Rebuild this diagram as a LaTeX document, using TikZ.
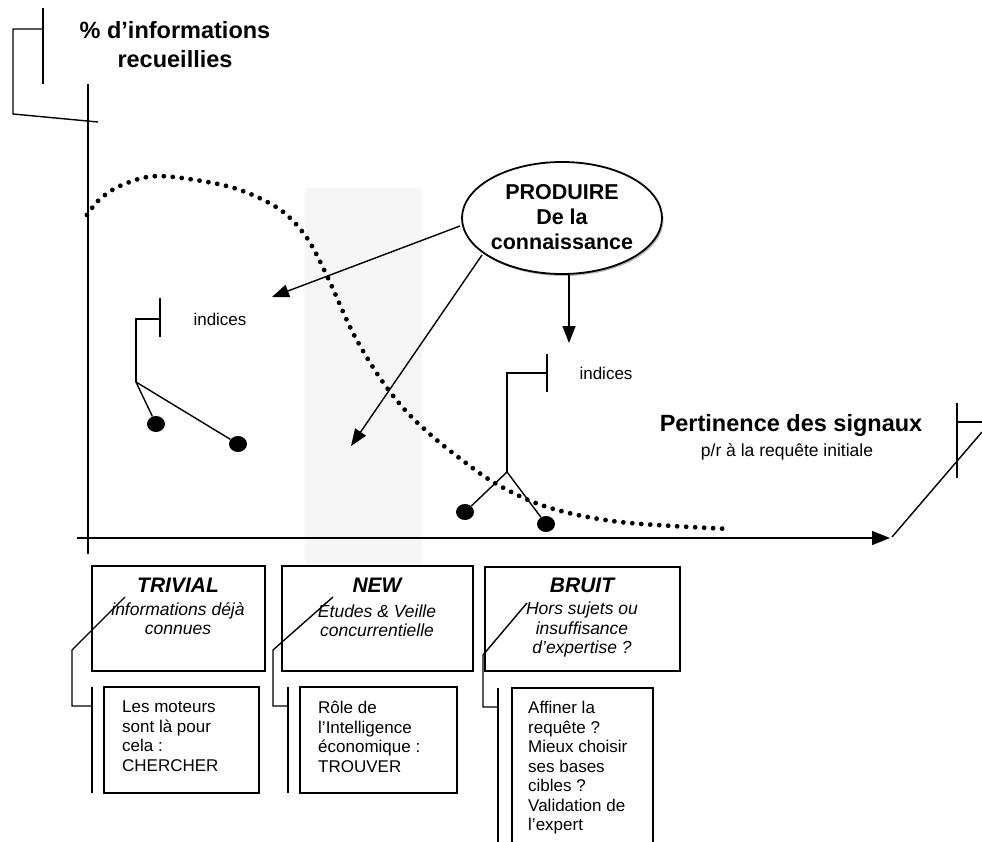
\documentclass[tikz,border=0pt]{standalone}
\usepackage{fontspec}
\setmainfont{Liberation Sans}
\usetikzlibrary{arrows.meta,shapes.geometric,shadows}
\definecolor{colgray}{RGB}{246,246,246}
\begin{document}
\begin{tikzpicture}[x=1pt,y=-1pt,
  ln/.style={line width=1.4pt},
  arr/.style={line width=1.4pt,-{Triangle[length=17pt,width=13pt]}},
  boxst/.style={draw,line width=1.5pt,rectangle,inner sep=0pt},
  blob/.style={fill=black,ellipse,minimum width=18pt,minimum height=16pt,inner sep=0pt},
  dotline/.style={line width=4.8pt,line cap=round,dash pattern=on 0pt off 9pt},
  bigt/.style={font=\fontsize{23.5}{29}\selectfont\bfseries,align=center,inner sep=0pt},
  smallt/.style={font=\fontsize{17}{19.5}\selectfont,inner sep=0pt},
  boxtxt/.style={font=\fontsize{17}{19.5}\selectfont,align=left,inner sep=0pt,anchor=north west},
  ttl/.style={font=\fontsize{21}{24}\selectfont\bfseries\itshape,inner sep=0pt,anchor=north},
  sub/.style={font=\fontsize{17.5}{19.5}\selectfont\itshape,align=center,inner sep=0pt,anchor=north},
]
\useasboundingbox (0,0) rectangle (982,842);
% grey column
\fill[colgray] (305,188) rectangle (422,564);

% axes
\coordinate (yt) at (88,84);
\coordinate (yb) at (88,554);
\coordinate (xl) at (77,538);
\coordinate (xr) at (890,538);
\draw[ln] (yt) -- (yb);
\draw[line width=1.4pt,-{Triangle[length=18pt,width=14pt]}] (xl) -- (xr);

% axis labels
\node[bigt] (ylab) at (175,45) {\% d’informations\\recueillies};
\node[bigt] (xlab) at (791,425) {Pertinence des signaux};
\node[font=\fontsize{17.5}{20}\selectfont,inner sep=0pt] (xlab2) at (787,452) {p/r à la requête initiale};

% top-left callout
\coordinate (c1a) at (43,8);
\coordinate (c1b) at (43,84);
\coordinate (c1c) at (43,29);
\coordinate (c1d) at (13,29);
\coordinate (c1e) at (13,114);
\coordinate (c1f) at (98,122);
\draw[ln] (c1a) -- (c1b);
\draw[ln] (c1c) -- (c1d) -- (c1e) -- (c1f);

% right callout
\coordinate (c2a) at (957,403);
\coordinate (c2b) at (957,478);
\coordinate (c2c) at (957,422);
\coordinate (c2d) at (982,422);
\coordinate (c2e) at (892,537);
\coordinate (c2f) at (982,432);
\draw[ln] (c2a) -- (c2b);
\draw[ln] (c2c) -- (c2d);
\draw[ln] (c2e) -- (c2f);

% dotted curve
\draw[dotline] plot[smooth,tension=0.55] coordinates {(87,215) (100,199) (122,185) (157,176) (213,183) (248,193) (282,211) (307,238) (328,278) (353,333) (380,378) (405,410) (432,436) (462,460) (493,482) (533,502) (573,514) (620,522) (673,526) (730,529)};

% ellipse
\node[ellipse,draw,line width=1.8pt,fill=white,minimum width=200pt,minimum height=112pt,inner sep=0pt,
      drop shadow={shadow xshift=1.5pt,shadow yshift=-2pt,fill=black!55}] (prod) at (562,218) {};
\node[font=\fontsize{21.5}{25}\selectfont\bfseries,align=center,inner sep=0pt] (prodtxt) at (562,217) {PRODUIRE\\De la\\connaissance};

% arrows from ellipse
\coordinate (s1) at (460,226);
\coordinate (t1) at (272,297);
\coordinate (s2) at (482,255);
\coordinate (t2) at (351,446);
\coordinate (s3) at (569,275);
\coordinate (t3) at (569,343);
\draw[arr] (s1) -- (t1);
\draw[arr] (s2) -- (t2);
\draw[arr] (s3) -- (t3);

% left indices group
\node[smallt] (ind1) at (220,319) {indices};
\coordinate (l1a) at (160,298);
\coordinate (l1b) at (160,337);
\coordinate (l1c) at (160,319);
\coordinate (l1d) at (136,319);
\coordinate (l1e) at (136,382);
\draw[ln] (l1a) -- (l1b);
\draw[ln] (l1c) -- (l1d) -- (l1e);
\node[blob] (d1) at (156,424) {};
\node[blob] (d2) at (238,444) {};
\draw[ln] (l1e) -- (d1);
\draw[ln] (l1e) -- (d2);

% right indices group
\node[smallt] (ind2) at (606,373) {indices};
\coordinate (r1a) at (547,354);
\coordinate (r1b) at (547,392);
\coordinate (r1c) at (547,373);
\coordinate (r1d) at (507,373);
\coordinate (r1e) at (507,472);
\draw[ln] (r1a) -- (r1b);
\draw[ln] (r1c) -- (r1d) -- (r1e);
\node[blob] (d3) at (465,512) {};
\node[blob] (d4) at (546,524) {};
\draw[ln] (r1e) -- (d3);
\draw[ln] (r1e) -- (d4);

% top boxes
\node[boxst,minimum width=173pt,minimum height=105pt] (b1) at (178.5,618.5) {};
\node[boxst,minimum width=191pt,minimum height=105pt] (b2) at (377.5,618.5) {};
\node[boxst,minimum width=195pt,minimum height=104pt] (b3) at (582.5,619) {};

\node[ttl] (t1a) at (178,578) {TRIVIAL};
\node[sub] (t1b) at (178,602) {informations déjà\\connues};
\node[ttl] (t2a) at (377,578) {NEW};
\node[sub] (t2b) at (377,602) {Études \& Veille\\concurrentielle};
\node[ttl] (t3a) at (582,578) {BRUIT};
\node[sub] (t3b) at (582,602) {Hors sujets ou\\insuffisance\\d’expertise ?};

% bottom boxes
\node[boxst,minimum width=155pt,minimum height=106pt] (c1) at (181.5,740) {};
\node[boxst,minimum width=157pt,minimum height=106pt] (c2) at (378.5,740) {};
\coordinate (c3a) at (512,850);
\coordinate (c3b) at (512,688);
\coordinate (c3c) at (653,688);
\coordinate (c3d) at (653,850);
\draw[line width=1.5pt] (c3a) -- (c3b) -- (c3c) -- (c3d);

\node[boxtxt] (c1t) at (122,701) {Les moteurs\\sont là pour\\cela :\\CHERCHER};
\node[boxtxt] (c2t) at (318,701) {Rôle de\\l’Intelligence\\économique :\\TROUVER};
\node[boxtxt] (c3t) at (528,701) {Affiner la\\requête ?\\Mieux choisir\\ses bases\\cibles ?\\Validation de\\l’expert};

% callouts on boxes
\coordinate (k1a) at (125,597);
\coordinate (k1b) at (72,650);
\coordinate (k1c) at (72,706);
\coordinate (k1d) at (92,706);
\coordinate (k1e) at (92,687);
\coordinate (k1f) at (92,793);
\draw[ln] (k1a) -- (k1b) -- (k1c) -- (k1d);
\draw[ln] (k1e) -- (k1f);

\coordinate (k2a) at (333,597);
\coordinate (k2b) at (273,650);
\coordinate (k2c) at (273,706);
\coordinate (k2d) at (288,706);
\coordinate (k2e) at (288,687);
\coordinate (k2f) at (288,793);
\draw[ln] (k2a) -- (k2b) -- (k2c) -- (k2d);
\draw[ln] (k2e) -- (k2f);

\coordinate (k3a) at (527,603);
\coordinate (k3b) at (483,655);
\coordinate (k3c) at (483,707);
\coordinate (k3d) at (498,707);
\coordinate (k3e) at (498,688);
\coordinate (k3f) at (498,850);
\draw[ln] (k3a) -- (k3b) -- (k3c) -- (k3d);
\draw[ln] (k3e) -- (k3f);
\end{tikzpicture}
\end{document}
